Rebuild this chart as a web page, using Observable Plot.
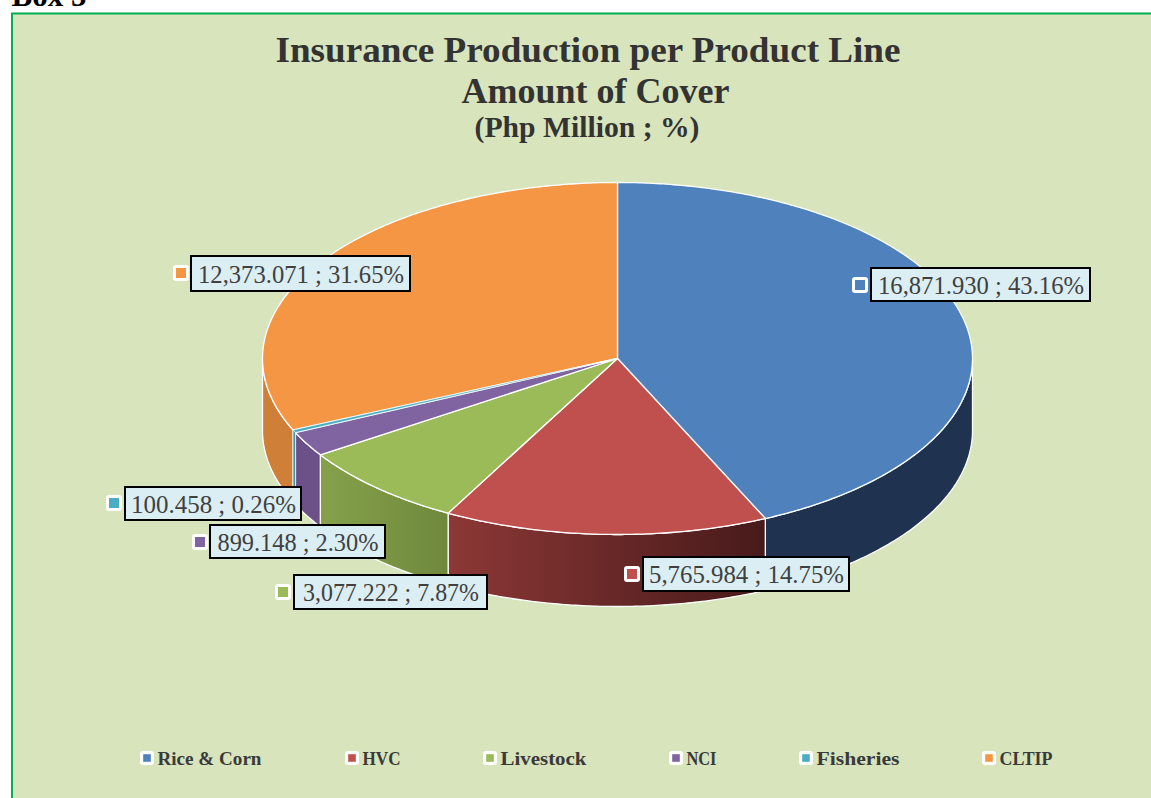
<!DOCTYPE html>
<html>
<head>
<meta charset="utf-8">
<style>html,body{margin:0;padding:0;background:#fff;overflow:hidden}svg{display:block}</style>
<script src="https://cdn.jsdelivr.net/npm/d3@7"></script>
<script src="https://cdn.jsdelivr.net/npm/@observablehq/plot@0.6"></script>
</head>
<body>
<div id="chart"></div>
<script>
const categories = ["Rice & Corn", "HVC", "Livestock", "NCI", "Fisheries", "CLTIP"];
const values = [16871.930, 5765.984, 3077.222, 899.148, 100.458, 12373.071];
const shares = [43.16, 14.75, 7.87, 2.30, 0.26, 31.65];
const topColors = ["#4f81bd", "#c0504d", "#9bbb59", "#8064a2", "#4bacc6", "#f59645"];
const sideColors = ["#1f3350", "url(#sideRed)", "url(#sideGreen)", "#6c5188", "#3a8ea6", "#cf7f38"];
const legendX = [147, 352, 490, 676, 806, 989];
const legendWidths = [104, 38, 86, 30, 83, 53];
const labelBoxes = [
  [871, 1090, 268, 301, 860, 285],
  [643, 849, 557, 591, 632, 574],
  [294, 487, 575, 609, 283, 592],
  [210, 385, 525, 558, 200, 542],
  [125, 301, 487, 520, 114, 503],
  [191, 410, 256, 291, 181, 273]
];
const labelWidths = [206, 195, 176, 161, 165, 206];
const titleLines = [
  {text: "Insurance Production per Product Line", x: 587.5, y: 61, size: 36, width: 625},
  {text: "Amount of Cover", x: 595, y: 102, size: 36, width: 268},
  {text: "(Php Million ; %)", x: 586.5, y: 136, size: 28.5, width: 225}
];

const cx = 617, cy = 358, rx = 355, ry = 176, depth = 72;
const serif = "Liberation Serif";
const total = d3.sum(values);
const pt = (t, dy = 0) => ({x: cx + rx * Math.sin(t), y: cy - ry * Math.cos(t) + dy});
const arc = (a, b, dy = 0) => {
  const n = Math.max(2, Math.ceil((b - a) / 0.01));
  return d3.range(n + 1).map(i => pt(a + (b - a) * i / n, dy));
};
let acc = 0;
const slices = values.map((v, i) => {
  const a = acc / total * 2 * Math.PI;
  acc += v;
  return {i, a, b: acc / total * 2 * Math.PI};
});
// thinnest slice last with a finer outline, so its colour stays visible
const drawOrder = d3.sort(slices, s => -(s.b - s.a));
const edge = s => (s.b - s.a < 0.02 ? 0.6 : 1.3);
const topPath = s => [{x: cx, y: cy}, ...arc(s.a, s.b), {x: cx, y: cy}];
const sidePath = s => {
  const a = Math.max(s.a, Math.PI / 2), b = Math.min(s.b, 3 * Math.PI / 2);
  return [...arc(a, b), ...arc(a, b, depth).reverse(), pt(a)];
};

function gradient(id, from, to) {
  return `<linearGradient id="${id}" x1="0" x2="1" y1="0" y2="0"><stop offset="0" stop-color="${from}"/><stop offset="1" stop-color="${to}"/></linearGradient>`;
}
const defs = () => {
  const g = d3.create("svg:defs");
  g.html(gradient("sideRed", "#8c3836", "#471a1a") + gradient("sideGreen", "#86a14b", "#6f883d"));
  return g.node();
};
// fit each real text to the width it has in the reference
const fit = field => (index, scales, vals, dims, ctx, next) => {
  const g = next(index, scales, vals, dims, ctx);
  d3.select(g).selectAll("text").each(function (d, j) {
    this.setAttribute("textLength", field(index[j]));
    this.setAttribute("lengthAdjust", "spacingAndGlyphs");
  });
  return g;
};

const labels = categories.map((c, i) => ({
  text: `${d3.format(",.3f")(values[i])} ; ${shares[i].toFixed(2)}%`,
  x1: labelBoxes[i][0], x2: labelBoxes[i][1], y1: labelBoxes[i][2], y2: labelBoxes[i][3],
  sx: labelBoxes[i][4], sy: labelBoxes[i][5], color: topColors[i]
}));
const legend = categories.map((c, i) => ({name: c, x: legendX[i], color: topColors[i]}));
const swatch = (data, xf, yf, outer, inner) => [
  Plot.rect(data, {x1: d => xf(d) - outer, x2: d => xf(d) + outer, y1: d => yf(d) - outer, y2: d => yf(d) + outer, fill: "#fff", rx: 3, inset: 0}),
  Plot.rect(data, {x1: d => xf(d) - inner, x2: d => xf(d) + inner, y1: d => yf(d) - inner, y2: d => yf(d) + inner, fill: d => d.color, inset: 0})
];

const chart = Plot.plot({
  width: 1151, height: 798, margin: 0,
  x: {domain: [0, 1151], range: [0, 1151], axis: null},
  y: {domain: [0, 798], range: [0, 798], axis: null},
  color: {type: "identity"},
  style: {background: "#fff", fontFamily: serif},
  marks: [
    defs,
    Plot.text(["Box 5"], {x: 11, y: 5, text: d => d, textAnchor: "start", lineAnchor: "bottom", fontSize: 31, fontWeight: "bold", fill: "#000", fontFamily: serif}),
    Plot.rect([0], {x1: 12, x2: 1170, y1: 13.5, y2: 820, fill: "#d8e4bc", stroke: "#00b050", strokeWidth: 2, inset: 0}),
    ...drawOrder.filter(s => s.b > Math.PI / 2 && s.a < 3 * Math.PI / 2).map(s =>
      Plot.line(sidePath(s), {x: "x", y: "y", fill: sideColors[s.i], stroke: "#fff", strokeWidth: edge(s), strokeLinejoin: "round"})),
    ...drawOrder.map(s =>
      Plot.line(topPath(s), {x: "x", y: "y", fill: topColors[s.i], stroke: "#fff", strokeWidth: edge(s), strokeLinejoin: "round"})),
    Plot.text(titleLines, {x: "x", y: "y", text: "text", fontSize: "size", fontWeight: "bold", fill: "#333", textAnchor: "middle", lineAnchor: "bottom", fontFamily: serif,
      render: fit(i => titleLines[i].width)}),
    Plot.rect(labels, {x1: "x1", x2: "x2", y1: "y1", y2: "y2", fill: "#daeef3", stroke: "#000", strokeWidth: 2, inset: 0}),
    Plot.text(labels, {x: d => (d.x1 + d.x2) / 2, y: d => (d.y1 + d.y2) / 2 + 1, text: "text", fontSize: 24.5, fill: "#404040", textAnchor: "middle", fontFamily: serif,
      render: fit(i => labelWidths[i])}),
    ...swatch(labels, d => d.sx, d => d.sy, 8, 5),
    ...swatch(legend, d => d.x, () => 758, 7, 3.8),
    Plot.text(legend, {x: d => d.x + 10, y: 758, text: "name", fontSize: 19.5, fontWeight: "bold", fill: "#3a3a3a", textAnchor: "start", fontFamily: serif,
      render: fit(i => legendWidths[i])})
  ]
});
document.getElementById("chart").append(chart);
</script>
</body>
</html>
